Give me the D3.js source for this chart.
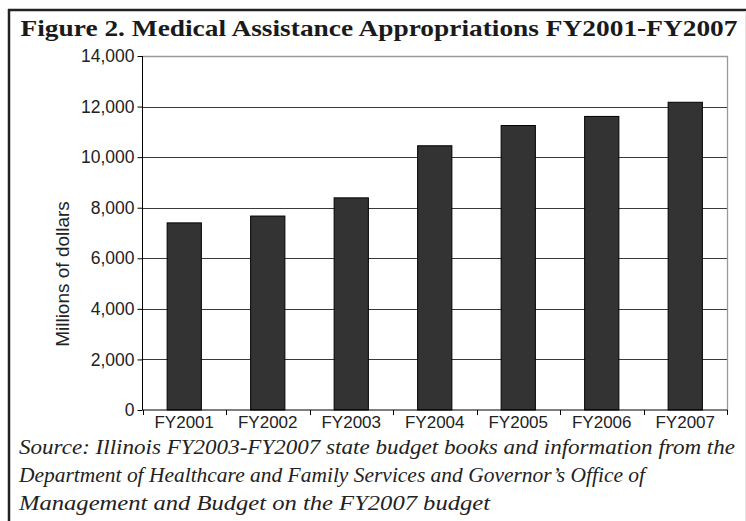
<!DOCTYPE html>
<html>
<head>
<meta charset="utf-8">
<script src="https://cdn.jsdelivr.net/npm/d3@7"></script>
<style>
  html, body { margin: 0; padding: 0; background: #fff; }
  svg { display: block; }
</style>
</head>
<body>
<svg id="chart" width="746" height="521"></svg>
<script>
const categories = ["FY2001", "FY2002", "FY2003", "FY2004", "FY2005", "FY2006", "FY2007"];
const values = [7400, 7670, 8390, 10450, 11250, 11610, 12170];
const yTicks = [0, 2000, 4000, 6000, 8000, 10000, 12000, 14000];
const titleText = "Figure 2. Medical Assistance Appropriations FY2001-FY2007";
const yLabel = "Millions of dollars";
const sourceLines = [
  "Source: Illinois FY2003-FY2007 state budget books and information from the",
  "Department of Healthcare and Family Services and Governor’s Office of",
  "Management and Budget on the FY2007 budget"
];
const sourceWidths = [716, 626, 471];

const svg = d3.select("#chart");
const W = 746, H = 521;
const plot = { left: 142.5, right: 727, top: 56, bottom: 410 };

// Frame
svg.append("line").attr("x1", 8).attr("x2", W).attr("y1", 10).attr("y2", 10)
  .attr("stroke", "#222").attr("stroke-width", 2.5);
svg.append("line").attr("x1", 9).attr("x2", 9).attr("y1", 9).attr("y2", H)
  .attr("stroke", "#222").attr("stroke-width", 2.5);
svg.append("line").attr("x1", 745.5).attr("x2", 745.5).attr("y1", 11).attr("y2", H)
  .attr("stroke", "#e4e4e4").attr("stroke-width", 1);

// Title
svg.append("text")
  .attr("x", 20.5).attr("y", 35.5)
  .attr("textLength", 717).attr("lengthAdjust", "spacingAndGlyphs")
  .style("font-family", "'Liberation Serif', 'Times New Roman', serif")
  .style("font-weight", "bold").style("font-size", "24px").attr("fill", "#1a1a1a")
  .text(titleText);

const y = d3.scaleLinear().domain([0, 14000]).range([plot.bottom, plot.top]);
const xGrid = d3.scaleBand().domain(categories).range([plot.left, plot.right]).padding(0);
const x = d3.scaleBand().domain(categories).range([plot.left, plot.right])
  .paddingInner(0.59).paddingOuter(0.295);

// Gridlines
svg.append("g").selectAll("line").data(yTicks.filter(d => d > 0 && d < 14000)).join("line")
  .attr("x1", plot.left).attr("x2", plot.right)
  .attr("y1", d => Math.round(y(d)) + 0.5).attr("y2", d => Math.round(y(d)) + 0.5)
  .attr("stroke", "#3a3a3a").attr("stroke-width", 1);

// Plot border (top & right gray)
svg.append("path")
  .attr("d", `M${plot.left},${plot.top + 0.5}H${plot.right + 0.5}V${plot.bottom}`)
  .attr("fill", "none").attr("stroke", "#9a9a9a").attr("stroke-width", 1.3);

// Bars
svg.append("g").selectAll("rect").data(categories).join("rect")
  .attr("x", d => x(d)).attr("width", x.bandwidth())
  .attr("y", (d, i) => y(values[i])).attr("height", (d, i) => plot.bottom - y(values[i]))
  .attr("fill", "#333333").attr("stroke", "#000").attr("stroke-width", 1);

// Y axis
const yAxis = d3.axisLeft(y).tickValues(yTicks).tickFormat(d3.format(",")).tickSize(5).tickPadding(3);
const gy = svg.append("g").attr("transform", `translate(${plot.left},0)`).call(yAxis);
gy.select(".domain").attr("stroke", "#000").attr("d", `M0,${plot.top}V${plot.bottom}`);
gy.selectAll(".tick line").attr("stroke", "#000");
gy.selectAll(".tick text")
  .style("font-family", "'Liberation Sans', Arial, sans-serif").style("font-size", "17.5px")
  .attr("fill", "#222");

// X axis line and boundary ticks
const gx = svg.append("g");
gx.append("line").attr("x1", plot.left).attr("x2", plot.right + 0.5)
  .attr("y1", plot.bottom).attr("y2", plot.bottom).attr("stroke", "#000").attr("stroke-width", 1.2);
const boundaries = categories.map(c => xGrid(c)).concat([plot.right]);
gx.selectAll("line.bt").data(boundaries).join("line").attr("class", "bt")
  .attr("x1", d => Math.round(d) + 0.5).attr("x2", d => Math.round(d) + 0.5)
  .attr("y1", plot.bottom).attr("y2", plot.bottom + 5).attr("stroke", "#000");
gx.selectAll("text").data(categories).join("text")
  .attr("x", d => xGrid(d) + xGrid.bandwidth() / 2).attr("y", 428)
  .attr("text-anchor", "middle")
  .style("font-family", "'Liberation Sans', Arial, sans-serif").style("font-size", "17px")
  .attr("fill", "#222").text(d => d);

// Y label
svg.append("text")
  .attr("transform", `translate(69,274) rotate(-90)`)
  .attr("text-anchor", "middle")
  .style("font-family", "'Liberation Sans', Arial, sans-serif").style("font-size", "19px")
  .attr("fill", "#222").text(yLabel);

// Source
const src = svg.append("g")
  .style("font-family", "'Liberation Serif', 'Times New Roman', serif")
  .style("font-style", "italic").style("font-size", "20px").attr("fill", "#222");
src.selectAll("text").data(sourceLines).join("text")
  .attr("x", 19).attr("y", (d, i) => 454 + i * 28)
  .attr("textLength", (d, i) => sourceWidths[i])
  .attr("lengthAdjust", "spacingAndGlyphs")
  .text(d => d);
</script>
</body>
</html>
